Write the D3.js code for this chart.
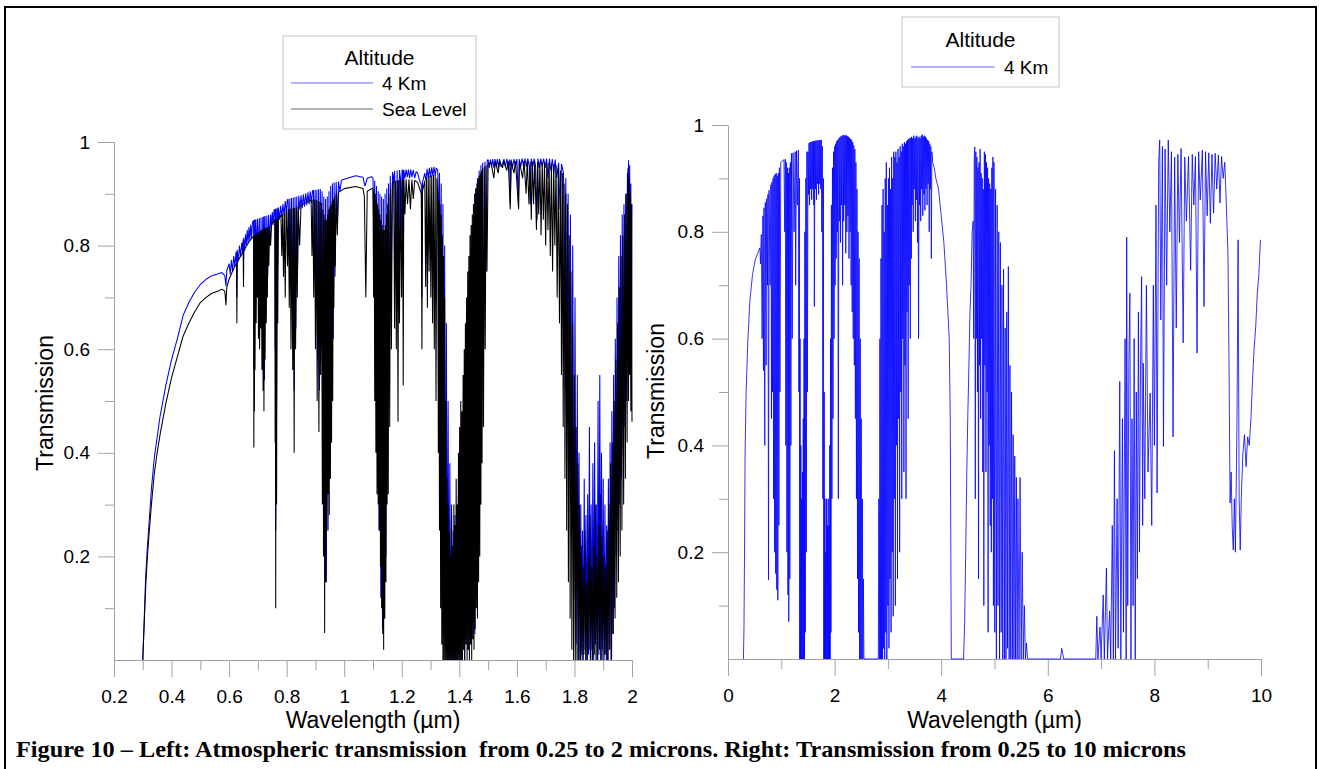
<!DOCTYPE html>
<html><head><meta charset="utf-8">
<script src="https://cdn.jsdelivr.net/npm/d3@7"></script>
<style>body{margin:0;background:#fff}</style>
</head><body>
<svg id="c" width="1319" height="769"></svg>
<script>
// ---------- DATA ----------
const seriesNames = ["4 Km", "Sea Level"];
const legendTitle = "Altitude";
const xTitle = "Wavelength (\u00b5m)";
const yTitle = "Transmission";
const caption = "Figure 10 \u2013 Left: Atmospheric transmission  from 0.25 to 2 microns. Right: Transmission from 0.25 to 10 microns";

const leftXTicks = [0.2,0.4,0.6,0.8,1,1.2,1.4,1.6,1.8,2];
const leftXMinor = [0.3,0.5,0.7,0.9,1.1,1.3,1.5,1.7,1.9];
const rightXTicks = [0,2,4,6,8,10];
const rightXMinor = [1,3,5,7,9];
const yTicks = [0.2,0.4,0.6,0.8,1];
const yMinor = [0.1,0.3,0.5,0.7,0.9];

// Left panel, 4 Km altitude: [wavelength um, transmission]
const km4Left = [
[0.300,0.000],[0.305,0.080],[0.310,0.160],[0.315,0.210],[0.320,0.250],[0.330,0.330],[0.340,0.390],[0.350,0.430],[0.360,0.470],[0.380,0.530],[0.400,0.580],[0.420,0.620],[0.440,0.665],[0.460,0.690],[0.480,0.710],[0.500,0.725],[0.520,0.735],[0.540,0.742],[0.560,0.745],[0.575,0.748],[0.585,0.742],[0.589,0.722],[0.592,0.752],
[0.600,0.765],[0.604,0.745],[0.608,0.772],[0.612,0.750],[0.616,0.780],[0.620,0.760],[0.624,0.788],[0.626,0.765],[0.627,0.700],[0.628,0.792],[0.632,0.770],[0.636,0.800],[0.640,0.778],[0.644,0.806],[0.647,0.785],[0.649,0.812],[0.650,0.770],[0.651,0.815],[0.654,0.790],[0.657,0.822],[0.660,0.800],[0.663,0.830],[0.666,0.805],[0.669,0.836],[0.672,0.810],[0.675,0.840],[0.678,0.815],[0.681,0.845],
[0.685,0.848],[0.686,0.560],[0.687,0.850],[0.688,0.620],[0.689,0.850],[0.691,0.700],[0.693,0.851],[0.696,0.780],[0.699,0.852],[0.702,0.760],[0.705,0.853],[0.708,0.700],[0.711,0.854],[0.714,0.640],[0.717,0.855],[0.720,0.580],[0.721,0.856],[0.723,0.540],[0.725,0.857],[0.728,0.660],[0.731,0.858],[0.734,0.740],[0.737,0.859],[0.740,0.800],[0.744,0.860],[0.747,0.835],[0.750,0.865],[0.753,0.840],[0.756,0.868],
[0.759,0.870],[0.760,0.600],[0.761,0.871],[0.762,0.250],[0.763,0.871],[0.765,0.500],[0.767,0.872],[0.769,0.760],[0.771,0.874],[0.775,0.850],[0.779,0.877],[0.783,0.855],[0.787,0.880],[0.791,0.858],[0.795,0.886],[0.799,0.862],[0.802,0.888],
[0.805,0.890],[0.808,0.800],[0.811,0.891],[0.814,0.720],[0.817,0.892],[0.820,0.620],[0.823,0.893],[0.826,0.520],[0.829,0.894],[0.832,0.640],[0.835,0.895],[0.838,0.760],[0.842,0.896],[0.846,0.870],[0.850,0.897],[0.854,0.872],[0.858,0.899],[0.862,0.875],[0.866,0.901],[0.870,0.878],[0.874,0.903],[0.878,0.880],[0.882,0.905],[0.886,0.882],[0.890,0.906],
[0.893,0.907],[0.896,0.820],[0.899,0.908],[0.902,0.700],[0.905,0.908],[0.908,0.580],[0.911,0.909],[0.914,0.520],[0.917,0.909],[0.920,0.600],[0.923,0.905],[0.926,0.400],[0.929,0.895],[0.932,0.200],[0.935,0.890],[0.938,0.150],[0.941,0.895],[0.944,0.250],[0.947,0.905],[0.950,0.350],[0.953,0.915],[0.956,0.500],[0.959,0.920],[0.962,0.620],[0.965,0.922],[0.968,0.740],[0.972,0.923],[0.976,0.840],[0.980,0.924],[0.985,0.905],[0.990,0.926],[1.000,0.928],[1.040,0.935],[1.065,0.932],[1.072,0.915],[1.080,0.930],[1.095,0.933],
[1.100,0.930],[1.103,0.800],[1.106,0.925],[1.109,0.600],[1.112,0.915],[1.115,0.420],[1.118,0.905],[1.121,0.250],[1.124,0.900],[1.127,0.120],[1.130,0.895],[1.133,0.060],[1.136,0.890],[1.139,0.080],[1.142,0.900],[1.145,0.200],[1.148,0.910],[1.151,0.380],[1.154,0.920],[1.157,0.560],[1.160,0.935],[1.164,0.750],[1.168,0.942],
[1.172,0.925],[1.175,0.944],[1.180,0.760],[1.184,0.945],[1.188,0.700],[1.192,0.946],[1.196,0.928],[1.198,0.820],[1.201,0.946],[1.204,0.946],[1.205,0.700],[1.207,0.946],[1.211,0.930],[1.215,0.947],[1.219,0.932],[1.223,0.947],[1.227,0.930],[1.231,0.947],[1.235,0.932],[1.240,0.946],[1.245,0.930],[1.250,0.943],[1.255,0.940],[1.262,0.925],[1.268,0.918],[1.270,0.700],[1.272,0.922],
[1.280,0.940],[1.284,0.925],[1.288,0.948],[1.292,0.930],[1.296,0.950],[1.300,0.932],[1.304,0.951],[1.308,0.935],[1.312,0.952],[1.316,0.935],[1.320,0.950],
[1.325,0.945],[1.328,0.820],[1.331,0.940],[1.334,0.620],[1.337,0.920],[1.340,0.400],[1.343,0.880],[1.346,0.180],[1.349,0.800],[1.352,0.020],[1.355,0.650],[1.358,0.000],[1.361,0.500],[1.364,0.000],[1.367,0.380],[1.370,0.000],[1.373,0.300],[1.376,0.000],[1.379,0.250],[1.382,0.000],[1.385,0.280],[1.388,0.000],[1.391,0.300],[1.394,0.000],[1.397,0.350],[1.400,0.010],[1.403,0.400],[1.406,0.000],[1.409,0.450],[1.412,0.020],[1.415,0.500],[1.418,0.000],[1.421,0.580],[1.424,0.040],[1.427,0.620],[1.430,0.020],[1.433,0.700],[1.436,0.050],[1.439,0.780],[1.442,0.030],[1.445,0.840],[1.448,0.080],[1.451,0.880],[1.454,0.050],[1.457,0.910],[1.460,0.120],[1.463,0.930],[1.466,0.200],[1.469,0.945],[1.472,0.300],[1.475,0.955],[1.478,0.450],[1.481,0.960],[1.485,0.600],[1.489,0.962],[1.493,0.750],[1.497,0.965],
[1.500,0.966],[1.504,0.950],[1.508,0.966],[1.512,0.952],[1.516,0.967],[1.520,0.950],[1.524,0.967],[1.528,0.953],[1.532,0.967],[1.536,0.950],[1.540,0.967],[1.545,0.952],[1.550,0.958],[1.555,0.967],[1.560,0.952],[1.565,0.967],[1.570,0.953],[1.575,0.966],[1.577,0.880],[1.580,0.966],[1.585,0.952],[1.590,0.967],[1.595,0.953],[1.600,0.967],[1.605,0.885],[1.608,0.967],[1.613,0.952],[1.618,0.968],[1.623,0.953],[1.628,0.968],[1.633,0.952],[1.638,0.968],[1.643,0.953],[1.647,0.880],[1.650,0.968],[1.655,0.952],[1.660,0.968],[1.665,0.953],[1.670,0.850],[1.673,0.968],[1.678,0.950],[1.683,0.968],[1.688,0.952],[1.693,0.968],[1.698,0.950],[1.703,0.968],[1.708,0.930],[1.713,0.968],[1.718,0.945],[1.723,0.967],[1.728,0.940],[1.733,0.966],[1.738,0.930],[1.745,0.960],[1.750,0.870],[1.755,0.958],
[1.762,0.940],[1.766,0.700],[1.770,0.930],[1.774,0.560],[1.778,0.900],[1.782,0.400],[1.786,0.860],[1.790,0.250],[1.794,0.800],[1.798,0.120],[1.802,0.700],[1.806,0.030],[1.810,0.550],[1.813,0.000],
[1.816,0.400],[1.819,0.000],[1.822,0.300],[1.825,0.010],[1.828,0.250],[1.831,0.000],[1.834,0.350],[1.837,0.020],[1.840,0.280],[1.843,0.000],[1.846,0.320],[1.849,0.010],[1.852,0.450],[1.855,0.000],[1.858,0.300],[1.861,0.020],[1.864,0.380],[1.867,0.000],[1.870,0.420],[1.873,0.030],[1.876,0.300],[1.879,0.000],[1.882,0.500],[1.885,0.010],[1.888,0.550],[1.891,0.000],[1.894,0.400],[1.897,0.020],[1.900,0.350],[1.903,0.000],[1.906,0.300],[1.909,0.010],[1.912,0.260],[1.915,0.000],[1.918,0.350],[1.921,0.020],[1.924,0.420],[1.927,0.000],[1.930,0.480],[1.933,0.050],[1.936,0.550],[1.939,0.100],[1.942,0.620],[1.945,0.200],
[1.948,0.700],[1.951,0.250],[1.954,0.780],[1.957,0.300],[1.960,0.820],[1.963,0.350],[1.966,0.860],[1.969,0.400],[1.972,0.880],[1.975,0.450],[1.978,0.900],[1.981,0.500],[1.984,0.940],[1.986,0.600],[1.988,0.965],[1.990,0.650],[1.992,0.955],[1.994,0.580],[1.996,0.920],[1.998,0.520],[2.000,0.880]
];

// Left panel, sea level: [wavelength um, transmission]
const seaLeft = [
[0.300,0.000],[0.305,0.070],[0.310,0.140],[0.315,0.190],[0.320,0.230],[0.330,0.300],[0.340,0.360],[0.350,0.400],[0.360,0.435],[0.380,0.495],[0.400,0.545],[0.420,0.585],[0.440,0.625],[0.460,0.650],[0.480,0.672],[0.500,0.690],[0.520,0.700],[0.540,0.708],[0.560,0.712],[0.575,0.716],[0.585,0.712],[0.589,0.685],[0.592,0.720],[0.600,0.735],[0.610,0.748],[0.620,0.760],[0.626,0.765],[0.627,0.650],[0.628,0.767],[0.640,0.780],[0.649,0.788],[0.650,0.720],[0.651,0.790],[0.661,0.800],[0.670,0.808],[0.680,0.815],
[0.685,0.818],[0.686,0.410],[0.687,0.820],[0.688,0.480],[0.689,0.821],[0.690,0.560],[0.692,0.822],[0.694,0.650],[0.696,0.823],[0.698,0.700],[0.700,0.824],[0.702,0.620],[0.704,0.826],[0.706,0.600],[0.708,0.828],[0.710,0.640],[0.712,0.830],[0.714,0.560],[0.716,0.831],[0.718,0.520],[0.720,0.832],[0.721,0.480],[0.723,0.833],[0.725,0.580],[0.727,0.834],[0.729,0.650],[0.731,0.835],[0.733,0.700],[0.735,0.836],[0.738,0.760],[0.741,0.838],[0.744,0.800],[0.748,0.842],
[0.759,0.850],[0.760,0.420],[0.761,0.851],[0.762,0.100],[0.763,0.851],[0.765,0.300],[0.767,0.852],[0.769,0.650],[0.771,0.854],[0.780,0.859],[0.783,0.780],[0.786,0.861],[0.789,0.740],[0.792,0.863],[0.795,0.700],[0.798,0.866],
[0.800,0.868],[0.803,0.760],[0.806,0.870],[0.809,0.680],[0.812,0.871],[0.815,0.600],[0.818,0.872],[0.821,0.560],[0.824,0.872],[0.826,0.400],[0.828,0.873],[0.831,0.600],[0.834,0.874],[0.837,0.700],[0.840,0.876],[0.845,0.800],[0.850,0.878],[0.870,0.884],[0.885,0.888],
[0.888,0.780],[0.891,0.889],[0.894,0.700],[0.897,0.889],[0.900,0.600],[0.903,0.888],[0.906,0.500],[0.909,0.887],[0.912,0.440],[0.915,0.885],[0.918,0.550],[0.921,0.882],[0.924,0.300],[0.926,0.870],[0.928,0.200],[0.930,0.860],[0.932,0.052],[0.934,0.850],[0.936,0.150],[0.938,0.850],[0.940,0.250],[0.942,0.860],[0.944,0.320],[0.946,0.870],[0.948,0.280],[0.950,0.875],[0.952,0.350],[0.954,0.880],[0.956,0.420],[0.958,0.885],[0.960,0.500],[0.962,0.890],[0.964,0.680],[0.966,0.895],[0.969,0.760],[0.972,0.900],[0.976,0.820],[0.980,0.903],[1.000,0.910],[1.040,0.914],[1.065,0.910],[1.070,0.895],[1.075,0.700],[1.080,0.905],[1.095,0.910],
[1.100,0.910],[1.102,0.700],[1.104,0.905],[1.106,0.500],[1.108,0.900],[1.110,0.400],[1.112,0.890],[1.114,0.320],[1.116,0.880],[1.118,0.300],[1.120,0.870],[1.122,0.250],[1.124,0.860],[1.126,0.180],[1.128,0.850],[1.130,0.100],[1.132,0.840],[1.134,0.050],[1.136,0.830],[1.137,0.020],[1.139,0.830],[1.141,0.080],[1.143,0.840],[1.145,0.150],[1.147,0.860],[1.149,0.300],[1.151,0.880],[1.153,0.320],[1.155,0.900],[1.158,0.450],[1.161,0.910],[1.164,0.600],[1.167,0.920],
[1.172,0.924],[1.175,0.640],[1.178,0.925],[1.181,0.600],[1.184,0.926],[1.187,0.460],[1.189,0.926],[1.192,0.650],[1.195,0.927],[1.199,0.700],[1.203,0.927],[1.205,0.530],[1.207,0.927],[1.211,0.860],[1.215,0.928],[1.220,0.880],[1.225,0.928],[1.230,0.870],[1.235,0.927],[1.240,0.890],[1.245,0.926],[1.255,0.922],[1.262,0.910],[1.268,0.900],[1.270,0.600],[1.272,0.905],
[1.280,0.925],[1.283,0.720],[1.286,0.930],[1.289,0.680],[1.292,0.933],[1.295,0.750],[1.298,0.935],[1.301,0.700],[1.304,0.936],[1.307,0.650],[1.310,0.937],[1.313,0.600],[1.316,0.936],[1.319,0.500],[1.322,0.930],
[1.325,0.900],[1.327,0.400],[1.329,0.890],[1.331,0.250],[1.333,0.880],[1.335,0.100],[1.337,0.860],[1.339,0.030],[1.341,0.820],[1.343,0.000],[1.345,0.780],[1.347,0.000],[1.349,0.700],[1.351,0.000],[1.353,0.500],[1.355,0.000],[1.357,0.350],[1.359,0.000],[1.361,0.300],[1.363,0.000],[1.365,0.250],[1.367,0.000],[1.369,0.200],[1.371,0.000],[1.373,0.280],[1.375,0.000],[1.377,0.220],[1.379,0.000],[1.381,0.300],[1.383,0.000],[1.385,0.260],[1.387,0.000],[1.389,0.350],[1.391,0.000],[1.393,0.300],[1.395,0.000],[1.397,0.400],[1.399,0.000],[1.401,0.450],[1.403,0.000],[1.405,0.500],[1.407,0.000],[1.409,0.480],[1.411,0.000],[1.413,0.550],[1.415,0.020],[1.417,0.600],[1.419,0.000],[1.421,0.650],[1.423,0.030],[1.425,0.700],[1.427,0.000],[1.429,0.750],[1.431,0.020],[1.433,0.780],[1.435,0.000],[1.437,0.820],[1.439,0.030],[1.441,0.840],[1.443,0.000],[1.445,0.860],[1.447,0.040],[1.449,0.880],[1.451,0.020],[1.453,0.900],[1.455,0.060],[1.457,0.910],[1.459,0.100],[1.461,0.920],[1.463,0.080],[1.465,0.930],[1.467,0.150],[1.469,0.935],[1.471,0.200],[1.473,0.940],[1.475,0.300],[1.477,0.945],[1.479,0.380],[1.481,0.950],[1.484,0.450],[1.487,0.952],[1.490,0.600],[1.493,0.955],[1.496,0.750],[1.500,0.957],
[1.510,0.960],[1.520,0.930],[1.525,0.962],[1.535,0.940],[1.540,0.963],[1.550,0.950],[1.555,0.963],[1.565,0.945],[1.570,0.963],[1.577,0.870],[1.580,0.962],[1.590,0.940],[1.595,0.963],[1.606,0.870],[1.609,0.962],[1.620,0.930],[1.625,0.963],[1.632,0.900],[1.636,0.963],[1.642,0.880],[1.646,0.962],[1.650,0.850],[1.654,0.962],[1.658,0.880],[1.662,0.962],[1.668,0.830],[1.672,0.962],[1.676,0.860],[1.680,0.961],[1.684,0.820],[1.688,0.961],[1.692,0.850],[1.696,0.961],[1.700,0.800],[1.704,0.960],[1.708,0.830],[1.712,0.960],[1.716,0.780],[1.720,0.958],[1.724,0.750],[1.728,0.957],[1.732,0.800],[1.736,0.955],[1.740,0.700],[1.744,0.950],[1.748,0.650],[1.752,0.945],[1.755,0.550],[1.758,0.940],[1.761,0.450],[1.764,0.920],[1.767,0.350],[1.770,0.900],[1.773,0.250],[1.776,0.880],[1.779,0.150],[1.782,0.820],[1.785,0.080],[1.788,0.750],[1.791,0.020],[1.794,0.650],[1.797,0.000],[1.800,0.550],[1.803,0.000],[1.806,0.450],[1.809,0.000],[1.812,0.380],[1.815,0.000],
[1.818,0.300],[1.821,0.000],[1.824,0.220],[1.827,0.000],[1.830,0.180],[1.833,0.010],[1.836,0.250],[1.839,0.000],[1.842,0.150],[1.845,0.000],[1.848,0.200],[1.851,0.020],[1.854,0.280],[1.857,0.000],[1.860,0.180],[1.863,0.000],[1.866,0.220],[1.869,0.010],[1.872,0.300],[1.875,0.000],[1.878,0.200],[1.881,0.000],[1.884,0.260],[1.887,0.020],[1.890,0.320],[1.893,0.000],[1.896,0.240],[1.899,0.000],[1.902,0.200],[1.905,0.010],[1.908,0.180],[1.911,0.000],[1.914,0.250],[1.917,0.000],[1.920,0.300],[1.923,0.020],[1.926,0.380],[1.929,0.000],[1.932,0.420],[1.935,0.050],[1.938,0.500],[1.941,0.080],[1.944,0.580],
[1.947,0.120],[1.950,0.650],[1.953,0.150],[1.956,0.720],[1.959,0.200],[1.962,0.780],[1.965,0.250],[1.968,0.820],[1.971,0.300],[1.974,0.860],[1.977,0.350],[1.980,0.900],[1.983,0.420],[1.986,0.950],[1.988,0.500],[1.990,0.930],[1.992,0.550],[1.994,0.900],[1.996,0.480],[1.998,0.880],[2.000,0.460]
];

// Right panel, 4 Km altitude: [wavelength um, transmission]
const km4Right = [
[0.290,0.000],[0.300,0.060],[0.310,0.200],[0.320,0.380],[0.340,0.500],[0.370,0.590],[0.410,0.670],[0.460,0.720],[0.510,0.747],[0.560,0.760],[0.600,0.770],[0.610,0.740],[0.625,0.795],[0.640,0.600],[0.655,0.830],[0.665,0.540],[0.675,0.845],[0.690,0.400],[0.700,0.855],[0.715,0.550],[0.725,0.862],[0.740,0.700],[0.750,0.870],[0.760,0.148],[0.770,0.878],[0.790,0.700],[0.805,0.888],[0.815,0.450],[0.825,0.893],[0.835,0.500],[0.845,0.900],[0.855,0.300],[0.865,0.905],[0.875,0.200],[0.885,0.908],[0.895,0.160],[0.905,0.910],[0.915,0.130],[0.925,0.905],[0.935,0.110],[0.945,0.910],[0.955,0.250],[0.965,0.920],[0.975,0.500],[0.990,0.930],[1.050,0.935],[1.065,0.800],[1.075,0.936],[1.085,0.400],[1.095,0.930],[1.105,0.200],[1.115,0.920],[1.125,0.120],[1.135,0.910],[1.140,0.070],[1.150,0.920],[1.160,0.150],[1.170,0.930],[1.180,0.400],[1.190,0.947],[1.205,0.600],[1.220,0.948],[1.240,0.800],[1.260,0.950],[1.270,0.700],[1.285,0.952],[1.300,0.850],[1.320,0.953],[1.330,0.500],[1.340,0.900],
[1.345,0.000],[1.352,0.600],[1.360,0.000],[1.367,0.400],[1.375,0.000],[1.382,0.300],[1.390,0.000],[1.397,0.350],[1.405,0.000],[1.412,0.450],[1.420,0.000],[1.427,0.600],[1.435,0.000],[1.442,0.800],[1.450,0.050],[1.460,0.900],[1.470,0.200],[1.480,0.950],[1.490,0.500],[1.500,0.950],[1.510,0.870],[1.520,0.966],[1.530,0.850],[1.540,0.968],[1.550,0.880],[1.560,0.968],[1.570,0.860],[1.580,0.969],[1.590,0.880],[1.600,0.970],[1.610,0.850],[1.615,0.970],[1.620,0.660],[1.630,0.970],[1.640,0.880],[1.650,0.971],[1.660,0.860],[1.670,0.971],[1.680,0.890],[1.690,0.971],[1.700,0.870],[1.710,0.972],[1.720,0.890],[1.730,0.972],[1.740,0.880],[1.750,0.972],[1.760,0.800],[1.770,0.960],[1.780,0.300],[1.790,0.900],
[1.797,0.000],[1.805,0.500],[1.812,0.000],[1.820,0.300],[1.827,0.000],[1.835,0.200],[1.842,0.000],[1.850,0.300],[1.857,0.000],[1.865,0.250],[1.872,0.000],[1.880,0.300],[1.887,0.000],[1.895,0.250],[1.902,0.000],[1.910,0.400],[1.917,0.000],[1.925,0.600],[1.932,0.050],[1.940,0.850],[1.950,0.300],[1.960,0.920],[1.970,0.450],[1.980,0.950],[1.990,0.600],[2.000,0.960],[2.010,0.700],[2.020,0.965],[2.030,0.750],[2.040,0.970],[2.050,0.800],[2.060,0.972],[2.070,0.300],[2.080,0.975],[2.090,0.820],[2.100,0.977],[2.110,0.780],[2.120,0.979],[2.130,0.850],[2.140,0.980],[2.150,0.700],[2.160,0.981],[2.170,0.820],[2.180,0.981],[2.190,0.850],[2.200,0.980],[2.210,0.760],[2.220,0.981],[2.230,0.800],[2.240,0.979],[2.250,0.830],[2.260,0.978],[2.270,0.750],[2.280,0.976],[2.290,0.800],[2.300,0.974],[2.310,0.700],[2.320,0.972],[2.330,0.650],[2.340,0.968],[2.350,0.600],[2.360,0.962],[2.370,0.550],[2.380,0.955],[2.390,0.450],[2.400,0.930],[2.410,0.300],[2.420,0.880],[2.430,0.150],[2.440,0.800],[2.450,0.050],[2.460,0.750],[2.470,0.000],[2.480,0.600],[2.490,0.000],[2.500,0.450],[2.510,0.000],[2.520,0.300],[2.530,0.000],[2.540,0.150],[2.550,0.000],[2.820,0.000],
[2.830,0.300],[2.840,0.000],[2.850,0.600],[2.860,0.000],[2.870,0.750],[2.880,0.000],[2.890,0.850],[2.900,0.000],[2.910,0.880],[2.920,0.020],[2.930,0.800],[2.940,0.000],[2.950,0.900],[2.960,0.050],[2.970,0.930],[2.980,0.000],[2.990,0.850],[3.000,0.100],[3.010,0.900],[3.020,0.020],[3.030,0.920],[3.040,0.150],[3.050,0.880],[3.060,0.050],[3.070,0.940],[3.080,0.200],[3.090,0.900],[3.100,0.080],[3.110,0.950],[3.120,0.300],[3.130,0.940],[3.140,0.100],[3.150,0.950],[3.160,0.400],[3.170,0.930],[3.180,0.150],[3.190,0.955],[3.200,0.450],[3.210,0.940],[3.220,0.200],[3.230,0.960],[3.240,0.500],[3.250,0.950],[3.260,0.300],[3.270,0.965],[3.280,0.600],[3.290,0.960],[3.300,0.350],[3.310,0.968],[3.320,0.550],[3.330,0.965],[3.340,0.300],[3.350,0.970],[3.360,0.650],[3.370,0.972],[3.380,0.450],[3.390,0.974],[3.400,0.700],[3.410,0.975],[3.420,0.600],[3.430,0.976],[3.440,0.750],
[3.445,0.978],[3.455,0.850],[3.465,0.975],[3.475,0.800],[3.485,0.980],[3.495,0.880],[3.505,0.975],[3.515,0.820],[3.525,0.978],[3.535,0.860],[3.545,0.980],[3.555,0.780],[3.565,0.975],[3.575,0.600],[3.585,0.978],[3.595,0.850],[3.605,0.975],[3.615,0.820],[3.625,0.980],[3.635,0.880],[3.645,0.982],[3.655,0.830],[3.665,0.978],[3.675,0.870],[3.685,0.980],[3.695,0.840],[3.705,0.978],[3.715,0.880],[3.725,0.975],[3.735,0.850],[3.745,0.972],[3.755,0.890],[3.765,0.970],[3.775,0.800],[3.785,0.965],[3.795,0.880],[3.805,0.960],[3.815,0.750],[3.825,0.950],[3.840,0.930],[3.870,0.920],[3.900,0.900],[3.950,0.880],[4.000,0.830],[4.050,0.780],[4.100,0.700],[4.150,0.600],[4.170,0.450],[4.190,0.000],[4.420,0.000],
[4.440,0.070],[4.460,0.200],[4.480,0.350],[4.500,0.460],[4.520,0.550],[4.540,0.650],[4.560,0.700],[4.580,0.800],[4.600,0.820],[4.610,0.600],[4.620,0.940],[4.630,0.959],[4.640,0.300],[4.650,0.950],[4.660,0.600],[4.670,0.940],[4.680,0.500],[4.690,0.920],[4.700,0.150],[4.710,0.930],[4.720,0.550],[4.730,0.955],[4.740,0.450],[4.750,0.910],[4.760,0.600],[4.770,0.900],[4.780,0.350],[4.790,0.880],[4.800,0.100],[4.810,0.950],[4.820,0.550],[4.830,0.945],[4.840,0.350],[4.850,0.930],[4.860,0.500],[4.870,0.920],[4.880,0.050],[4.890,0.900],[4.900,0.400],[4.910,0.890],[4.920,0.250],[4.930,0.880],[4.940,0.200],[4.950,0.920],[4.960,0.300],[4.970,0.940],[4.980,0.100],[4.990,0.930],
[5.005,0.050],[5.020,0.880],[5.035,0.000],[5.050,0.850],[5.065,0.100],[5.080,0.800],[5.095,0.000],[5.110,0.780],[5.125,0.050],[5.140,0.700],[5.155,0.000],[5.170,0.730],[5.185,0.000],[5.200,0.620],[5.215,0.000],[5.230,0.650],[5.245,0.020],[5.260,0.735],[5.275,0.000],[5.290,0.550],[5.305,0.000],[5.320,0.500],[5.335,0.000],[5.350,0.420],[5.365,0.000],[5.380,0.380],[5.395,0.000],[5.410,0.340],[5.425,0.000],[5.440,0.300],[5.460,0.000],[5.480,0.340],[5.500,0.000],[5.520,0.200],[5.540,0.000],[5.560,0.100],[5.580,0.000],[5.600,0.030],[5.620,0.000],[6.240,0.000],[6.260,0.020],[6.280,0.010],[6.300,0.000],[6.900,0.000],
[6.920,0.080],[6.940,0.000],[6.980,0.060],[7.000,0.000],[7.040,0.120],[7.060,0.000],[7.100,0.170],[7.120,0.000],[7.160,0.090],[7.180,0.000],[7.210,0.250],[7.230,0.000],[7.250,0.390],[7.270,0.000],[7.300,0.300],[7.320,0.020],[7.350,0.520],[7.370,0.000],[7.400,0.450],[7.420,0.050],[7.450,0.600],[7.470,0.000],[7.480,0.790],[7.500,0.100],[7.520,0.550],[7.540,0.685],[7.560,0.000],[7.580,0.450],[7.600,0.100],[7.620,0.600],[7.640,0.000],[7.660,0.500],[7.680,0.150],[7.700,0.650],[7.720,0.200],[7.740,0.550],[7.760,0.716],[7.780,0.250],[7.790,0.554],[7.820,0.300],[7.850,0.700],[7.880,0.350],[7.920,0.498],[7.950,0.250],[7.980,0.700],[8.000,0.400],[8.030,0.850],[8.050,0.311],[8.080,0.930],[8.100,0.972],[8.120,0.635],[8.150,0.960],[8.170,0.398],[8.200,0.955],[8.230,0.700],[8.260,0.972],[8.290,0.800],[8.320,0.950],[8.350,0.416],[8.380,0.940],[8.410,0.620],[8.440,0.945],[8.470,0.780],[8.500,0.956],[8.540,0.592],[8.570,0.940],[8.600,0.820],[8.640,0.941],[8.680,0.728],[8.710,0.945],[8.740,0.850],[8.770,0.941],[8.800,0.573],[8.830,0.950],[8.860,0.860],[8.900,0.953],[8.930,0.660],[8.960,0.950],[8.990,0.830],[9.020,0.948],[9.050,0.816],[9.080,0.945],[9.110,0.835],[9.140,0.947],[9.170,0.880],[9.200,0.944],[9.230,0.854],[9.260,0.941],[9.290,0.900],[9.320,0.930],[9.350,0.850],[9.380,0.760],[9.400,0.550],[9.420,0.292],[9.440,0.350],[9.460,0.248],[9.480,0.204],[9.500,0.300],[9.520,0.200],[9.550,0.450],[9.570,0.785],[9.590,0.300],[9.610,0.204],[9.630,0.300],[9.660,0.385],[9.690,0.420],[9.720,0.360],[9.750,0.416],[9.780,0.400],[9.810,0.448],[9.840,0.520],[9.870,0.580],[9.900,0.620],[9.930,0.685],[9.960,0.720],[9.990,0.785]
];

// ---------- DRAWING ----------
const svg = d3.select("#c");
const SANS = "'Liberation Sans', Arial, sans-serif";
const AXIS_COL = "#a3a3a3";
const BLUE = "#0000ff", BLACK = "#000000";
svg.append("rect").attr("width",1319).attr("height",769).attr("fill","#fff");
svg.append("path").attr("d","M5,790V7H1316V790").attr("fill","none").attr("stroke","#000").attr("stroke-width",2);

function styleAxis(g){
  g.attr("font-family",SANS).attr("font-size",19);
  g.selectAll(".domain").attr("stroke",AXIS_COL);
  g.selectAll(".tick line").attr("stroke",AXIS_COL);
  g.selectAll(".tick text").attr("fill","#000");
}
const fmt = d3.format("~g");

function panel(o){
  const x = d3.scaleLinear().domain(o.xDomain).range(o.xRange);
  const y = d3.scaleLinear().domain([0,1]).range(o.yRange);
  const y0 = o.yRange[0];
  svg.append("g").attr("transform",`translate(0,${y0})`)
    .call(d3.axisBottom(x).tickValues(o.xMinor).tickSize(10).tickSizeOuter(0).tickFormat(""))
    .call(g=>g.select(".domain").remove()).call(styleAxis);
  svg.append("g").attr("transform",`translate(0,${y0})`)
    .call(d3.axisBottom(x).tickValues(o.xTicks).tickSize(17).tickSizeOuter(0).tickPadding(13).tickFormat(fmt))
    .call(styleAxis);
  const x0 = o.xRange[0];
  svg.append("g").attr("transform",`translate(${x0},0)`)
    .call(d3.axisLeft(y).tickValues(yMinor).tickSize(9).tickSizeOuter(0).tickFormat(""))
    .call(g=>g.select(".domain").remove()).call(styleAxis);
  svg.append("g").attr("transform",`translate(${x0},0)`)
    .call(d3.axisLeft(y).tickValues(yTicks).tickSize(16).tickSizeOuter(0).tickPadding(8).tickFormat(fmt))
    .call(styleAxis);
  const line = d3.line().x(d=>x(d[0])).y(d=>y(d[1]));
  o.series.forEach(s=>{
    svg.append("path").datum(s.data).attr("d",line).attr("fill","none")
      .attr("stroke",s.color).attr("stroke-width",s.width).attr("stroke-linejoin","bevel");
  });
  svg.append("text").attr("x",(o.xRange[0]+o.xRange[1])/2).attr("y",728).attr("text-anchor","middle")
    .attr("font-family",SANS).attr("font-size",23).text(xTitle);
  svg.append("text").attr("transform",`translate(${o.yTitleX},${o.yTitleY}) rotate(-90)`).attr("text-anchor","middle")
    .attr("dy","0.35em").attr("font-family",SANS).attr("font-size",23).text(yTitle);
  const L = o.legend;
  svg.append("rect").attr("x",L.x).attr("y",L.y).attr("width",L.w).attr("height",L.h)
    .attr("fill","#fff").attr("stroke","#c4c4c4").attr("stroke-width",1);
  svg.append("text").attr("x",L.x+L.w/2).attr("y",L.y+L.titleDy).attr("text-anchor","middle")
    .attr("font-family",SANS).attr("font-size",21).text(legendTitle);
  o.series.forEach((s,i)=>{
    const ly = L.y + L.row0 + i*26;
    svg.append("line").attr("x1",L.x+L.lineX0).attr("x2",L.x+L.lineX1).attr("y1",ly).attr("y2",ly)
      .attr("stroke",s.color).attr("stroke-width",0.6);
    svg.append("text").attr("x",L.x+L.textX).attr("y",ly).attr("dy","0.35em")
      .attr("font-family",SANS).attr("font-size",19).text(s.name);
  });
}

panel({
  xDomain:[0.2,2], xRange:[114,632], yRange:[660,142],
  xTicks:leftXTicks, xMinor:leftXMinor,
  yTitleX:45, yTitleY:403,
  series:[{name:seriesNames[0],data:km4Left,color:BLUE,width:1.05},
          {name:seriesNames[1],data:seaLeft,color:BLACK,width:1.05}],
  legend:{x:283,y:36,w:193,h:93,titleDy:29,row0:47,lineX0:8,lineX1:90,textX:99}
});
panel({
  xDomain:[0,10], xRange:[728,1261], yRange:[659,125],
  xTicks:rightXTicks, xMinor:rightXMinor,
  yTitleX:656, yTitleY:391,
  series:[{name:seriesNames[0],data:km4Right,color:BLUE,width:0.8}],
  legend:{x:902,y:17,w:157,h:70,titleDy:30,row0:50,lineX0:9,lineX1:93,textX:102}
});

svg.append("text").attr("x",16).attr("y",757)
  .attr("font-family","'Liberation Serif', 'Times New Roman', serif").attr("font-weight","bold")
  .attr("font-size",23).attr("textLength",1170).attr("lengthAdjust","spacingAndGlyphs")
  .style("white-space","pre").text(caption);
</script>
</body></html>
